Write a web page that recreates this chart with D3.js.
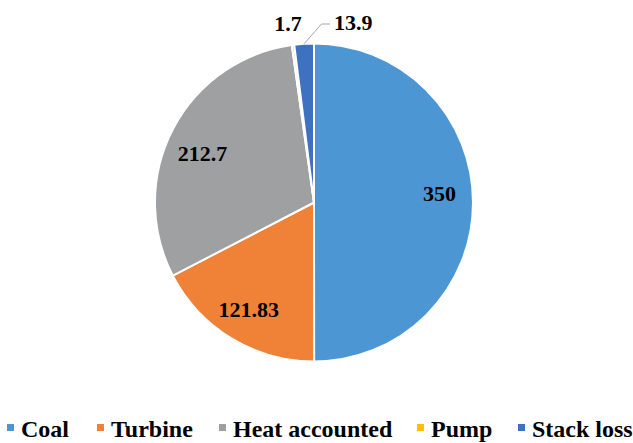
<!DOCTYPE html>
<html>
<head>
<meta charset="utf-8">
<script src="https://cdn.jsdelivr.net/npm/d3@7"></script>
<style>
  html, body { margin: 0; padding: 0; background: #fff; }
  svg { display: block; }
  text { font-family: "Liberation Serif", "Times New Roman", serif; font-weight: bold; fill: #000; }
</style>
</head>
<body>
<svg id="chart" width="633" height="443"></svg>
<script>
// Energy balance shares
const categories = ["Coal", "Turbine", "Heat accounted", "Pump", "Stack loss"];
const values = [350, 121.83, 212.7, 1.7, 13.9];
const labels = ["350", "121.83", "212.7", "1.7", "13.9"];
const colors = ["#4C97D3", "#F08238", "#9FA0A1", "#FFC000", "#3F71C1"];

const svg = d3.select("#chart");
const cx = 314, cy = 202.5, radius = 159;

const data = categories.map((c, i) => ({ name: c, value: values[i], label: labels[i], color: colors[i] }));

const pie = d3.pie().value(d => d.value).sort(null);
const arcs = pie(data);
const arc = d3.arc().innerRadius(0).outerRadius(radius);

const g = svg.append("g").attr("transform", `translate(${cx},${cy})`);

g.selectAll("path.slice")
  .data(arcs)
  .join("path")
  .attr("class", "slice")
  .attr("d", arc)
  .attr("fill", d => d.data.color)
  .attr("stroke", "#fff")
  .attr("stroke-width", 2)
  .attr("stroke-linejoin", "round");

// In-slice labels for the three large slices, nudged vertically
const labelArc = d3.arc().innerRadius(radius * 0.79).outerRadius(radius * 0.79);
const nudge = { "Coal": -8.5, "Turbine": 0, "Heat accounted": 9 };
const fontSize = 22;
const capHalf = fontSize * 0.662 / 2;

arcs.filter(a => a.data.name in nudge).forEach(a => {
  const [x, y] = labelArc.centroid(a);
  g.append("text")
    .attr("x", x)
    .attr("y", y + nudge[a.data.name] + capHalf)
    .attr("text-anchor", "middle")
    .attr("font-size", fontSize)
    .text(a.data.label);
});

// Pump label above the top of the pie
const pumpArc = arcs[3];
g.append("text")
  .attr("x", -26)
  .attr("y", -cy + 31)
  .attr("text-anchor", "middle")
  .attr("font-size", fontSize)
  .text(pumpArc.data.label);

// Stack loss label with leader line
const stackArc = arcs[4];
const sMid = (stackArc.startAngle + stackArc.endAngle) / 2;
const p0 = [Math.sin(sMid) * radius, -Math.cos(sMid) * radius];
const p1 = [7.5, -cy + 24];
const p2 = [16, -cy + 24];
g.append("polyline")
  .attr("points", [p0, p1, p2].map(p => p.join(",")).join(" "))
  .attr("fill", "none")
  .attr("stroke", "#A6A6A6")
  .attr("stroke-width", 1);
g.append("text")
  .attr("x", 20)
  .attr("y", -cy + 30)
  .attr("text-anchor", "start")
  .attr("font-size", fontSize)
  .text(stackArc.data.label);

// Legend along the bottom
const legendX = [7, 97, 219, 417, 518];
const legend = svg.append("g").attr("class", "legend");
data.forEach((d, i) => {
  const item = legend.append("g").attr("transform", `translate(${legendX[i]},0)`);
  item.append("rect")
    .attr("x", 0)
    .attr("y", 424)
    .attr("width", 7)
    .attr("height", 7)
    .attr("fill", d.color);
  item.append("text")
    .attr("x", 14)
    .attr("y", 436.5)
    .attr("font-size", 24)
    .text(d.name);
});
</script>
</body>
</html>
